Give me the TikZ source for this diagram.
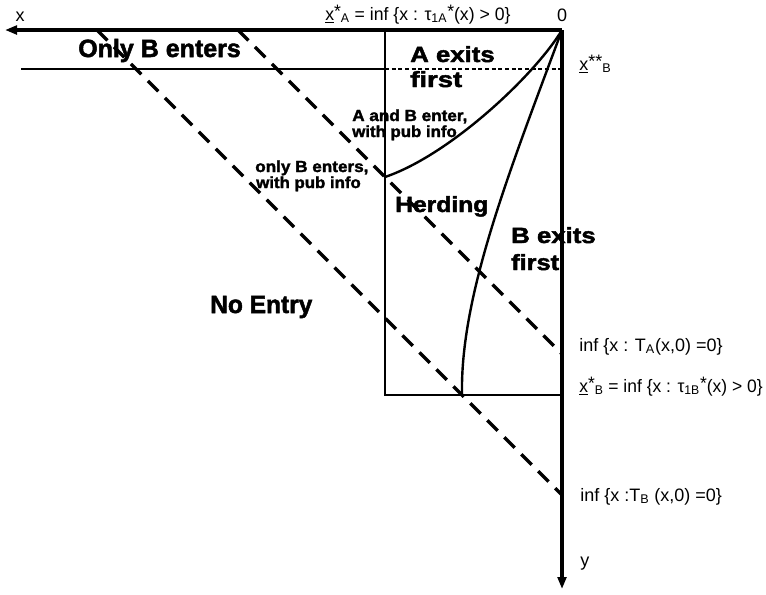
\documentclass[tikz,border=0pt]{standalone}
\usepackage{fontspec}
\setmainfont{Liberation Sans}[BoldFeatures={FakeBold=2}]
\usetikzlibrary{arrows.meta}
\newcommand\wx[2]{\scalebox{#1}[1]{#2}}
\newcommand\st{\raisebox{0.12em}{*}}
\begin{document}
\begin{tikzpicture}[x=0.75pt,y=-0.75pt,
  axis/.style={line width=2.6pt,-{Triangle[length=9pt,width=6.5pt]}},
  boxline/.style={line width=1.8pt},
  dline/.style={line width=2.5pt,dash pattern=on 11pt off 7pt},
  curveline/.style={line width=1.8pt},
  fineline/.style={line width=1.2pt,dash pattern=on 3pt off 2pt},
  huge/.style={font=\fontsize{18.75}{20}\selectfont\bfseries,inner sep=0pt,anchor=base west},
  big/.style={font=\fontsize{16.5}{18}\selectfont\bfseries,inner sep=0pt,anchor=base west},
  small/.style={font=\fontsize{12}{14}\selectfont\bfseries,inner sep=0pt,anchor=base west},
  lab/.style={font=\fontsize{13.5}{16}\selectfont,inner sep=0pt,anchor=base west},
  labc/.style={font=\fontsize{13.5}{16}\selectfont,inner sep=0pt,anchor=base}]
\useasboundingbox (0,0) rectangle (766,594);
% key points
\coordinate (O) at (562,30);
\coordinate (xend) at (5,30);
\coordinate (yend) at (562,589);
\coordinate (RTL) at (385,30);
\coordinate (RBL) at (385,395);
\coordinate (RBR) at (562,395);
\coordinate (Hl) at (21,69);
\coordinate (Hm) at (385,69);
\coordinate (Hr) at (562,69);
\coordinate (D1s) at (97,30);
\coordinate (D1e) at (562,495);
\coordinate (D2s) at (238,30);
\coordinate (D2e) at (562,354);
\coordinate (C1e) at (385,177);
\coordinate (C2e) at (462,395);
% rectangle
\draw[boxline] (RTL) -- (RBL) -- (RBR);
% horizontal line
\draw[boxline] (Hl) -- (Hm);
\draw[fineline] (Hm) -- (Hr);
% dashed diagonals
\draw[dline] (D1s) -- (D1e);
\draw[dline] (D2s) -- (D2e);
% curves
\draw[curveline] (O) .. controls (535,75) and (450,155) .. (C1e);
\draw[curveline] (O) .. controls (510,170) and (460,295) .. (C2e);
% axes
\draw[axis] (O) -- (xend);
\draw[axis] (O) -- (yend);
% axis labels
\node[labc] (xlab) at (20,21) {x};
\node[labc] (zero) at (562,21) {0};
\node[lab] (ylab) at (580,566) {y};
\node[lab] (xA) at (325,20) {\wx{0.98}{\underline{x}\st\textsubscript{A} = inf \{x : τ\textsubscript{1A}\st(x) > 0\}}};
\node[lab] (xBB) at (579,70) {\underline{x}\st\st\textsubscript{B}};
\node[lab] (TA) at (579,351) {inf \{x : T\textsubscript{A}(x,0) =0\}};
\node[lab] (xB) at (579,392) {\wx{0.97}{\underline{x}\st\textsubscript{B} = inf \{x : τ\textsubscript{1B}\st(x) > 0\}}};
\node[lab] (TB) at (580,501) {inf \{x :T\textsubscript{B} (x,0) =0\}};
% region labels
\node[huge] (onlyB) at (78,57) {\wx{1.0}{Only B enters}};
\node[huge] (noentry) at (210,313) {\wx{0.98}{No Entry}};
\node[big] (herding) at (395,212) {\wx{1.12}{Herding}};
\node[big] (Bexits) at (511,243) {\wx{1.17}{B exits}};
\node[big] (Bfirst) at (511,270) {\wx{1.15}{first}};
\node[big] (Aexits) at (410,62) {\wx{1.17}{A exits}};
\node[big] (Afirst) at (410,87) {\wx{1.25}{first}};
\node[small] (ab1) at (352,121) {\wx{1.07}{A and B enter,}};
\node[small] (ab2) at (352,137) {\wx{1.05}{with pub info}};
\node[small] (ob1) at (255,172) {\wx{1.07}{only B enters,}};
\node[small] (ob2) at (256,188) {\wx{1.05}{with pub info}};
\end{tikzpicture}
\end{document}
